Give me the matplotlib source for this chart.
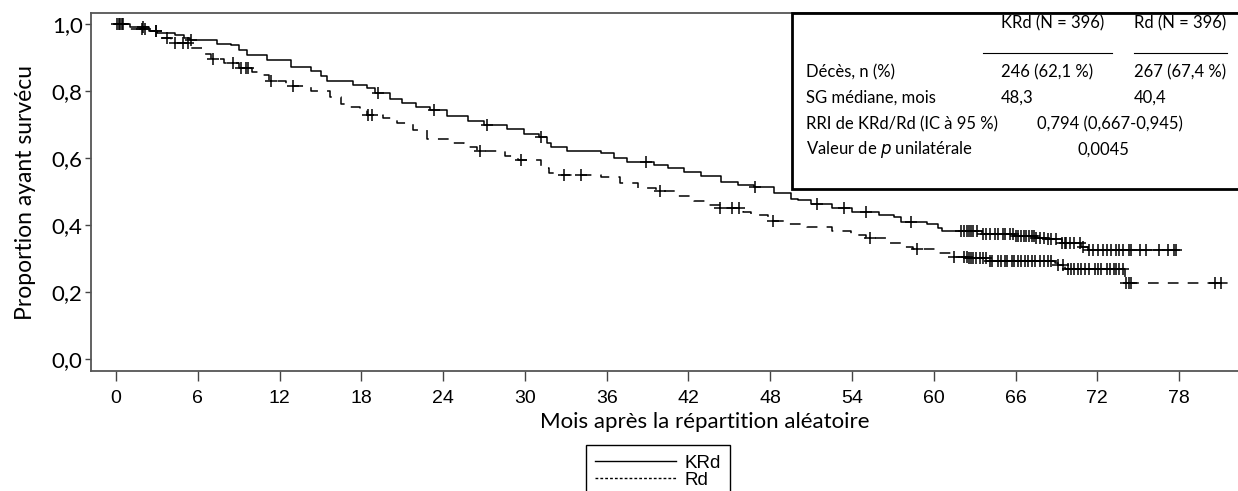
import matplotlib.pyplot as plt
import numpy as np
from matplotlib.lines import Line2D
from matplotlib.patches import Rectangle

# Courbes de Kaplan-Meier (mois, proportion)
krd_t = [0, 1.0, 2.4, 3.0, 4.3, 5.0, 5.4, 7.4, 8.4, 9.0, 9.6, 11.1, 12.8, 14.3, 15.0, 15.5,
         17.4, 18.4, 19.0, 20.1, 21.0, 22.0, 23.0, 24.3, 25.8, 27.0, 28.7, 29.9, 31.0, 31.6,
         31.9, 33.1, 35.6, 36.5, 37.5, 39.5, 40.5, 41.7, 42.9, 44.4, 45.6, 46.8, 48.3, 49.5,
         50.0, 51.0, 52.5, 54.0, 56.0, 57.1, 57.6, 59.5, 60.3, 60.6, 63.5, 65.9, 67.5, 68.4,
         69.4, 70.8, 71.3, 77.8]
krd_s = [1.0, 0.99, 0.98, 0.974, 0.968, 0.958, 0.952, 0.940, 0.936, 0.922, 0.907, 0.894, 0.873,
         0.861, 0.845, 0.831, 0.818, 0.808, 0.795, 0.775, 0.765, 0.752, 0.742, 0.726, 0.712,
         0.700, 0.688, 0.673, 0.663, 0.645, 0.634, 0.621, 0.614, 0.600, 0.587, 0.578, 0.569,
         0.558, 0.547, 0.529, 0.520, 0.512, 0.495, 0.478, 0.475, 0.462, 0.450, 0.440, 0.430,
         0.425, 0.410, 0.402, 0.390, 0.383, 0.373, 0.368, 0.362, 0.357, 0.347, 0.333, 0.325,
         0.325]

rd_t = [0, 0.8, 2.5, 3.0, 3.4, 4.0, 5.4, 6.4, 7.0, 7.9, 9.0, 10.0, 10.6, 11.2, 12.5, 14.3,
        15.7, 16.5, 16.8, 17.9, 18.4, 19.6, 20.6, 21.8, 22.8, 24.5, 25.5, 26.5, 28.5, 29.5,
        31.2, 31.8, 32.6, 35.6, 37.0, 38.3, 39.6, 41.2, 42.4, 43.5, 44.3, 46.0, 46.6, 47.8,
        49.3, 50.7, 52.5, 53.9, 55.0, 56.6, 57.9, 58.5, 60.3, 61.3, 62.5, 64.0, 68.9, 69.1,
        69.6, 74.0, 81.6]
rd_s = [1.0, 0.984, 0.978, 0.970, 0.957, 0.944, 0.927, 0.912, 0.895, 0.885, 0.870, 0.858,
        0.848, 0.830, 0.815, 0.800, 0.781, 0.760, 0.753, 0.743, 0.728, 0.718, 0.705, 0.684,
        0.658, 0.644, 0.632, 0.622, 0.606, 0.593, 0.569, 0.556, 0.549, 0.542, 0.526, 0.511,
        0.500, 0.487, 0.473, 0.460, 0.450, 0.440, 0.430, 0.412, 0.403, 0.393, 0.382, 0.370,
        0.360, 0.347, 0.335, 0.328, 0.315, 0.303, 0.300, 0.293, 0.285, 0.281, 0.269, 0.226,
        0.226]

# Temps de censure (mois)
krd_cens = [0.2, 0.4, 2.0, 2.9, 5.5, 19.2, 23.3, 27.2, 31.2, 38.9, 46.9, 51.4, 53.4, 55.0, 58.3,
            62.0, 62.2, 62.4, 62.55, 62.7, 62.9, 63.2, 63.6, 63.85, 64.1, 64.5, 64.7, 65.1,
            65.25, 65.6, 65.8, 66.05, 66.2, 66.4, 66.6, 66.8, 66.95, 67.2, 67.35, 67.5, 67.8,
            68.1, 68.4, 68.6, 69.0, 69.4, 69.6, 69.7, 70.0, 70.3, 70.7, 70.95, 71.4, 71.7,
            72.05, 72.4, 72.7, 73.0, 73.4, 73.6, 73.9, 74.3, 74.5, 75.1, 75.6, 76.5, 77.2,
            77.6, 77.8]
rd_cens = [0.1, 0.3, 0.5, 1.9, 2.1, 2.9, 3.7, 4.3, 4.9, 5.3, 7.1, 8.6, 9.2, 9.5, 9.7, 11.4,
           13.0, 18.5, 18.8, 26.7, 29.7, 32.9, 34.1, 39.9, 44.3, 45.2, 45.7, 48.2, 55.3, 58.8,
           61.5, 62.25, 62.4, 62.55, 62.7, 62.9, 63.1, 63.4, 63.6, 63.85, 64.1, 64.3, 64.7,
           64.95, 65.2, 65.4, 65.7, 65.9, 66.2, 66.4, 66.7, 66.9, 67.2, 67.4, 67.8, 68.1,
           68.4, 68.6, 69.1, 69.5, 69.85, 70.1, 70.3, 70.6, 70.8, 71.1, 71.4, 71.8, 72.05,
           72.3, 72.7, 72.9, 73.2, 73.4, 73.6, 73.9, 74.1, 74.3, 74.45, 80.6, 81.1]

x_ticks = list(range(0, 79, 6))
y_ticks = [0.0, 0.2, 0.4, 0.6, 0.8, 1.0]
y_labels = ["0,0", "0,2", "0,4", "0,6", "0,8", "1,0"]


def surv_at(t, times, surv):
    idx = np.searchsorted(times, t, side="right") - 1
    return np.array(surv)[idx]


def fx(px):
    return px / 1238


def fy(py):
    return 1 - py / 491


narrow = ["Liberation Sans Narrow", "Liberation Sans"]

fig = plt.figure(figsize=(12.38, 4.91), dpi=100)
ax = fig.add_axes([fx(91), fy(371), 1 - fx(91) + 0.002, (371 - 13) / 491])

ax.step(krd_t, krd_s, where="post", color="black", linewidth=1.1)
ax.step(rd_t, rd_s, where="post", color="black", linewidth=1.1, dashes=(7, 6))

ax.plot(krd_cens, surv_at(krd_cens, krd_t, krd_s), linestyle="none", marker="+",
        markersize=8, markeredgewidth=1.1, color="black")
ax.plot(rd_cens, surv_at(rd_cens, rd_t, rd_s), linestyle="none", marker="+",
        markersize=8, markeredgewidth=1.1, color="black")

ax.set_xlim(-1.84, 82.5)
ax.set_ylim(-0.036, 1.033)

ax.set_xticks(x_ticks)
ax.set_xticklabels([str(v) for v in x_ticks], family=narrow, fontsize=14)
ax.set_yticks(y_ticks)
ax.set_yticklabels(y_labels, family="Lato", fontsize=16)
ax.tick_params(axis="x", length=7, width=1, color="#444444", pad=7)
ax.tick_params(axis="y", length=4, width=1, color="#444444", pad=2)

for side in ["left", "bottom", "top"]:
    ax.spines[side].set_color("#555555")
    ax.spines[side].set_linewidth(1.3)
ax.spines["right"].set_visible(False)

ax.set_xlabel("Mois après la répartition aléatoire", family="Lato", fontsize=16,
              va="center")
ax.xaxis.set_label_coords((705 - 91) / 1149.5, (371 - 422) / 358)
ax.set_ylabel("Proportion ayant survécu", family="Lato", fontsize=16.5, va="center")
ax.yaxis.set_label_coords((25 - 91) / 1149.5, 0.5)

# Encadré avec le tableau de résultats
fig.patches.append(Rectangle((fx(792), fy(189)), fx(1238 - 792) + 0.01, (189 - 13) / 491,
                             transform=fig.transFigure, fill=True, facecolor="white",
                             edgecolor="black", linewidth=2, zorder=5))

tkw = dict(family="Lato", fontsize=12, va="center", ha="left", zorder=6)
fig.text(fx(1001), fy(23), "KRd (N = 396)", **tkw)
fig.text(fx(1134), fy(23), "Rd (N = 396)", **tkw)
fig.add_artist(Line2D([fx(983), fx(1112)], [fy(53), fy(53)], color="black", linewidth=0.8,
                      transform=fig.transFigure, zorder=6))
fig.add_artist(Line2D([fx(1134), fx(1227)], [fy(53), fy(53)], color="black", linewidth=0.8,
                      transform=fig.transFigure, zorder=6))
fig.text(fx(806), fy(72), "Décès, n (%)", **tkw)
fig.text(fx(1001), fy(72), "246 (62,1 %)", **tkw)
fig.text(fx(1134), fy(72), "267 (67,4 %)", **tkw)
fig.text(fx(806), fy(98), "SG médiane, mois", **tkw)
fig.text(fx(1001), fy(98), "48,3", **tkw)
fig.text(fx(1134), fy(98), "40,4", **tkw)
fig.text(fx(806), fy(124), "RRI de KRd/Rd (IC à 95 %)", **tkw)
fig.text(fx(1037), fy(124), "0,794 (0,667-0,945)", **tkw)
fig.text(fx(806), fy(150), "Valeur de $\\mathit{p}$ unilatérale", **tkw)
fig.text(fx(1077), fy(150), "0,0045", **tkw)

handles = [Line2D([], [], color="black", linewidth=1.0),
           Line2D([], [], color="black", linewidth=1.0, dashes=(2, 1.5))]
leg = fig.legend(handles, ["KRd", "Rd"], loc="upper left",
                 bbox_to_anchor=(fx(586), fy(445)), bbox_transform=fig.transFigure,
                 prop={"family": narrow, "size": 13.5},
                 fancybox=False, edgecolor="black", framealpha=1, handlelength=4.3,
                 borderpad=0.5, labelspacing=0.0, handletextpad=0.45, borderaxespad=0)
leg.get_frame().set_linewidth(1.0)

fig.savefig("out.png", dpi=100)
plt.close(fig)
